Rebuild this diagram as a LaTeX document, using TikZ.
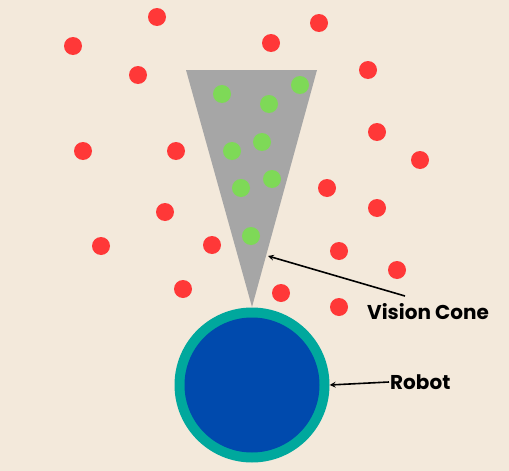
\documentclass[tikz,border=0pt]{standalone}
\usepackage{fontspec}
\setmainfont{Poppins}
\definecolor{bg}{HTML}{F3E9DB}
\definecolor{reddot}{HTML}{FF3838}
\definecolor{greendot}{HTML}{7ED957}
\definecolor{cone}{HTML}{A6A6A6}
\definecolor{teal}{HTML}{00A89D}
\definecolor{robotblue}{HTML}{004AAD}
\begin{document}
\begin{tikzpicture}[x=1pt,y=-1pt,
  red/.style={circle,fill=reddot,minimum size=18pt,inner sep=0pt},
  green/.style={circle,fill=greendot,minimum size=18pt,inner sep=0pt},
  lbl/.style={font=\bfseries\fontsize{20}{22}\selectfont,text=black,inner sep=0pt,anchor=west},
  arr/.style={->,>=stealth,line width=1.6pt,black}]
\fill[bg] (0,0) rectangle (509,471);
\useasboundingbox (0,0) rectangle (509,471);
% red dots
\foreach \p [count=\i] in {(157,17),(73,46),(271,43),(319,23),(138,75),(368,70),(83,151),(176,151),(377,132),(420,160),(327,188),(377,208),(165,212),(101,246),(212,245),(339,251),(397,270),(183,289),(281,293),(339,307)}
  \node[red] (r\i) at \p {};
% cone
\coordinate (c1) at (186,70);
\coordinate (c2) at (317,70);
\coordinate (apex) at (252,307);
\fill[cone] (c1) -- (c2) -- (apex) -- cycle;
% green dots
\foreach \p [count=\i] in {(222,94),(269,104),(300,85),(262,142),(232,151),(272,179),(241,188),(251,236)}
  \node[green] (g\i) at \p {};
% robot
\node[circle,fill=teal,minimum size=155pt,inner sep=0pt] (robot) at (252,385) {};
\node[circle,fill=robotblue,minimum size=135pt,inner sep=0pt] (core) at (252,385) {};
% labels
\node[lbl] (vc) at (367,312) {Vision Cone};
\node[lbl] (rb) at (390,382) {Robot};
\coordinate (vcstart) at (405,296);
\coordinate (vcend) at (268,256);
\draw[arr] (vcstart) -- (vcend);
\coordinate (rbstart) at (389,382);
\draw[arr] (rbstart) -- (robot.east);
\end{tikzpicture}
\end{document}
